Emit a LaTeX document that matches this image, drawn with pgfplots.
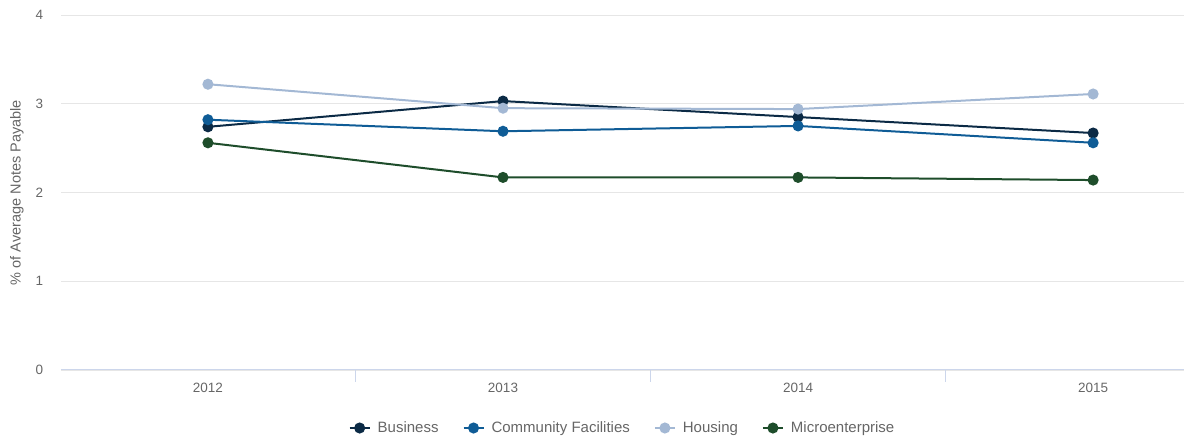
\documentclass[border=0pt]{standalone}
\usepackage{pgfplots}
\pgfplotsset{compat=1.18}
\usepackage{fontspec}
\setmainfont{Liberation Sans}
\definecolor{cBus}{HTML}{0B2A45}
\definecolor{cCom}{HTML}{0F5C96}
\definecolor{cHou}{HTML}{A3B8D4}
\definecolor{cMic}{HTML}{1E4D2B}
\definecolor{txt}{HTML}{666666}
\definecolor{grid}{HTML}{E6E6E6}
\definecolor{axl}{HTML}{CCD6EB}
\begin{document}
\begin{tikzpicture}[x=1pt,y=1pt]
\path[use as bounding box] (0,0) rectangle (1184,439);
\begin{axis}[
  at={(61pt,69pt)}, anchor=south west,
  scale only axis, width=1123pt, height=355pt,
  xmin=-0.498, xmax=3.308, ymin=0, ymax=4,
  axis x line=bottom, axis y line=left,
  x axis line style={-, draw=axl, line width=1pt},
  y axis line style={draw=none},
  xtick={0,1,2,3}, xticklabels={2012,2013,2014,2015},
  minor xtick={-0.5,0.5,1.5,2.5},
  major x tick style={draw=none},
  minor x tick style={draw=axl, line width=1pt},
  minor tick length=12pt, tick align=outside,
  ytick={0,1,2,3,4},
  major y tick style={draw=none},
  ymajorgrids, grid style={draw=grid, line width=0.8pt},
  /pgf/number format/assume math mode=true,
  ticklabel style={font=\fontsize{13.5}{15}\selectfont, text=txt},
  xticklabel style={yshift=-5pt},
  yticklabel style={xshift=-10pt},
  ylabel={\% of Average Notes Payable},
  every axis y label/.style={at={(rel axis cs:0,0.5)}, rotate=90, anchor=center, yshift=44pt,
    font=\fontsize{14.5}{16}\selectfont, text=txt},
  clip=false,
  legend columns=4,
  legend style={draw=none, fill=none, at={(rel axis cs:0.5,-0.1634)}, anchor=center,
    font=\fontsize{15}{17}\selectfont, text=txt,
    /tikz/every odd column/.append style={column sep=5pt},
    /tikz/every even column/.append style={column sep=22pt}},
  legend image code/.code={\draw[#1, mark=none] (0pt,0pt) -- (20pt,0pt); \draw[#1, only marks] plot coordinates {(10pt,0pt)};},
  every axis plot/.append style={line width=2pt, mark=*, mark size=4.5pt},
]
\addplot[cBus, mark options={fill=cBus}] coordinates {(0,2.74) (1,3.03) (2,2.85) (3,2.67)};
\addlegendentry{Business}
\addplot[cCom, mark options={fill=cCom}] coordinates {(0,2.82) (1,2.69) (2,2.75) (3,2.56)};
\addlegendentry{Community Facilities}
\addplot[cHou, mark options={fill=cHou}] coordinates {(0,3.22) (1,2.95) (2,2.94) (3,3.11)};
\addlegendentry{Housing}
\addplot[cMic, mark options={fill=cMic}] coordinates {(0,2.56) (1,2.17) (2,2.17) (3,2.14)};
\addlegendentry{Microenterprise}
\end{axis}
\end{tikzpicture}
\end{document}
